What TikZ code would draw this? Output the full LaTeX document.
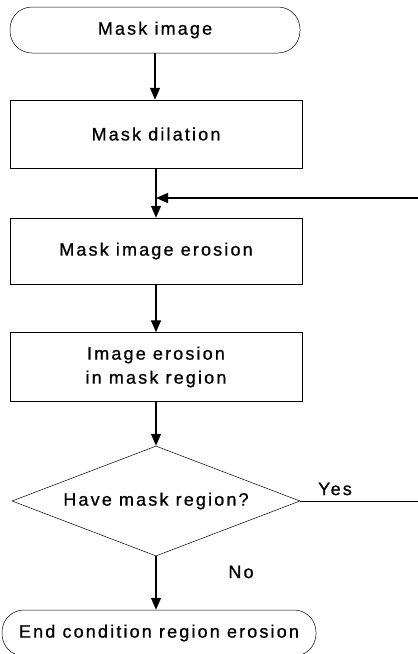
\documentclass[tikz,border=0pt]{standalone}
\usepackage{fontspec}
\setmainfont{Liberation Sans}[LetterSpace=12,FakeBold=0.8]
\usetikzlibrary{shapes.geometric,arrows.meta}

\begin{document}
\begin{tikzpicture}[x=1pt,y=-1pt,
  every node/.style={font=\fontsize{18}{24}\selectfont},
  term/.style={draw,line width=0.5pt,rounded corners=22pt,minimum height=46pt,inner sep=0pt},
  procbox/.style={draw,line width=0.5pt,minimum width=292pt,inner sep=0pt,align=center},
  decide/.style={draw,diamond,aspect=2.62,line width=0.5pt,minimum width=288pt,minimum height=110pt,inner sep=0pt},
  flow/.style={line width=1.4pt,-{Triangle[length=12pt,width=10pt]}}]
  % Rand
  \useasboundingbox (0,0) rectangle (418,654);
  % Noder
  \node[term,minimum width=290pt] (start) at (155,30) {Mask image};
  \node[procbox,minimum height=68pt] (dil) at (156,134) {Mask dilation};
  \node[procbox,minimum height=66pt] (ero) at (156,251) {Mask image erosion};
  \node[procbox,minimum height=69pt] (imgero) at (156,367) {Image erosion\\in mask region};
  \node[decide] (dec) at (156,501) {Have mask region?};
  \node[term,minimum width=314pt] (stop) at (159,633) {End condition region erosion};
  % Pilar
  \draw[flow] (start.south) -- (start.south |- dil.north);
  \draw[flow] (dil.south) -- (ero.north);
  \draw[flow] (ero.south) -- (imgero.north);
  \draw[flow] (imgero.south) -- (dec.north);
  \draw[flow] (dec.south) -- (dec.south |- stop.north);
  % Slinga
  \coordinate (yesend) at (418,501);
  \coordinate (backin) at (418,198);
  \draw[line width=1pt] (dec.east) -- (yesend);
  \draw[flow] (backin) -- (dil.south |- backin);
  % Etiketter
  \node (yes) at (335,489) {Yes};
  \node (no) at (241,572) {No};
\end{tikzpicture}
\end{document}
